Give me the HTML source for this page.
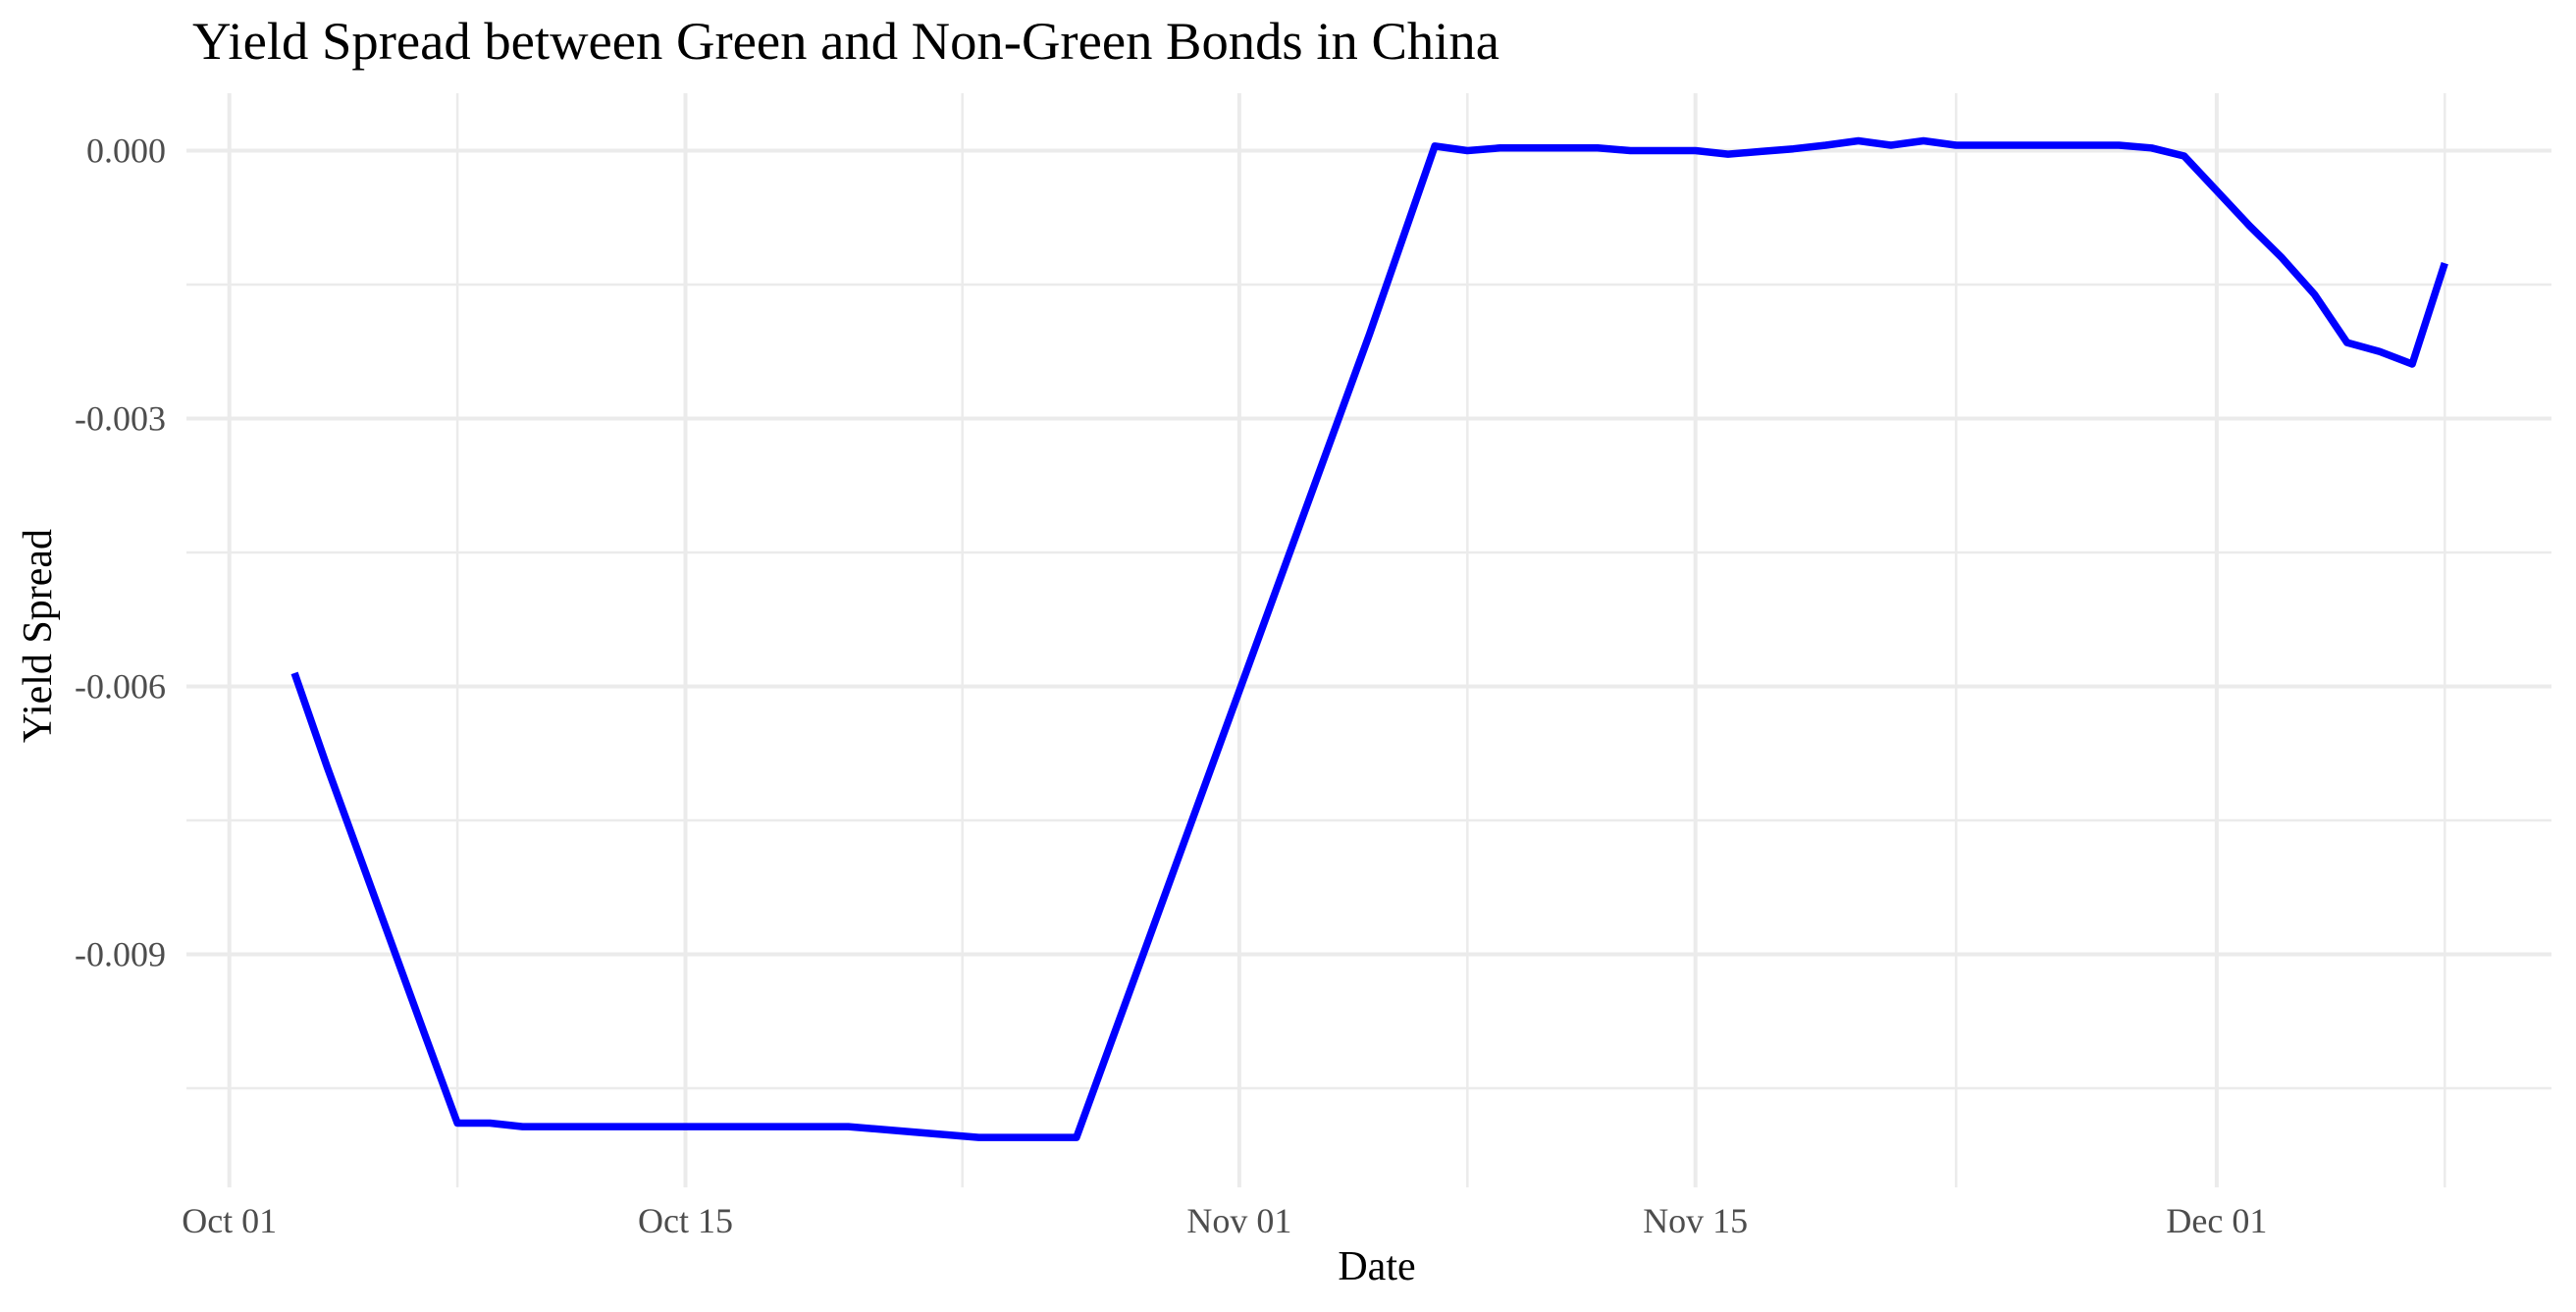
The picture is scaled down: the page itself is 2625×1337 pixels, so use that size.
<!DOCTYPE html>
<html><head><meta charset="utf-8"><style>
html,body{margin:0;padding:0;background:#fff;}
svg{display:block;font-family:"Liberation Serif",serif;}
</style></head><body>
<svg id="chart" width="2625" height="1337" viewBox="0 0 2625 1337">
<text x="196" y="60" font-size="54" fill="#000" textLength="1332" lengthAdjust="spacingAndGlyphs">Yield Spread between Green and Non-Green Bonds in China</text>
<g id="grid"></g><g id="yticks"></g><g id="xticks"></g><g id="series"></g>
<text x="1403" y="1304" font-size="42" fill="#000" text-anchor="middle">Date</text>
<text transform="translate(52,648) rotate(-90)" font-size="42" fill="#000" text-anchor="middle">Yield Spread</text>
</svg>
<script>
// days since Oct 01
const days = [2,3,4,5,6,7,8,9,10,11,12,13,14,15,16,17,18,19,21,23,24,25,26,27,28,29,30,31,32,33,34,35,36,37,38,39,40,41,42,43,44,45,46,47,48,49,50,51,52,53,54,55,56,57,58,59,60,61,62,63,64,65,66,67,68];
const values = [-0.00585,-0.00690,-0.00790,-0.00890,-0.00990,-0.01089,-0.01089,-0.01093,-0.01093,-0.01093,-0.01093,-0.01093,-0.01093,-0.01093,-0.01093,-0.01093,-0.01093,-0.01093,-0.01099,-0.01105,-0.01105,-0.01105,-0.01105,-0.01005,-0.00905,-0.00805,-0.00705,-0.00605,-0.00505,-0.00405,-0.00305,-0.00205,-0.00100,0.00005,0.0,0.00003,0.00003,0.00003,0.00003,0.0,0.0,0.0,-0.00004,-0.00001,0.00002,0.00006,0.00011,0.00006,0.00011,0.00006,0.00006,0.00006,0.00006,0.00006,0.00006,0.00003,-0.00006,-0.00045,-0.00084,-0.0012,-0.00161,-0.00215,-0.00225,-0.00239,-0.00126];
const xTickDays = [0,14,31,45,61];
const xTickLabels = ["Oct 01","Oct 15","Nov 01","Nov 15","Dec 01"];
const xMinorDays = [7,22.5,38,53,68];
const yTicks = [0,-0.003,-0.006,-0.009];
const yTickLabels = ["0.000","-0.003","-0.006","-0.009"];
const yMinor = [-0.0015,-0.0045,-0.0075,-0.0105];

const NS="http://www.w3.org/2000/svg";
const X0=233.7, PX_PER_DAY=33.2, Y0=153.5, PX_PER_UNIT=273/0.003;
const LEFT=190, RIGHT=2600, TOP=95, BOTTOM=1210;
function xs(d){return X0+d*PX_PER_DAY;}
function ys(v){return Y0-v*PX_PER_UNIT;}
function mk(tag,attrs,parent){const e=document.createElementNS(NS,tag);for(const k in attrs)e.setAttribute(k,attrs[k]);parent.appendChild(e);return e;}
const grid=document.getElementById('grid');
yMinor.forEach(v=>{const l=mk('line',{x1:LEFT,x2:RIGHT,y1:ys(v),y2:ys(v),stroke:'#ebebeb','stroke-width':2.5},grid);

});
xMinorDays.forEach(d=>{const l=mk('line',{x1:xs(d),x2:xs(d),y1:TOP,y2:BOTTOM,stroke:'#ebebeb','stroke-width':2.5},grid);

});
yTicks.forEach((v,i)=>{const l=mk('line',{x1:LEFT,x2:RIGHT,y1:ys(v),y2:ys(v),stroke:'#ebebeb','stroke-width':4},grid);


const t=mk('text',{x:169,y:ys(v)+12,'font-size':36,fill:'#4d4d4d','text-anchor':'end'},document.getElementById('yticks'));
t.textContent=yTickLabels[i];

});
xTickDays.forEach((d,i)=>{const l=mk('line',{x1:xs(d),x2:xs(d),y1:TOP,y2:BOTTOM,stroke:'#ebebeb','stroke-width':4},grid);


const t=mk('text',{x:xs(d),y:1256,'font-size':36,fill:'#4d4d4d','text-anchor':'middle'},document.getElementById('xticks'));
t.textContent=xTickLabels[i];

});
const pts=days.map((d,i)=>xs(d).toFixed(1)+','+ys(values[i]).toFixed(1)).join(' ');
const pl=mk('polyline',{points:pts,fill:'none',stroke:'#0000ff','stroke-width':7.5,'stroke-linejoin':'round'},document.getElementById('series'));


</script>
</body></html>
